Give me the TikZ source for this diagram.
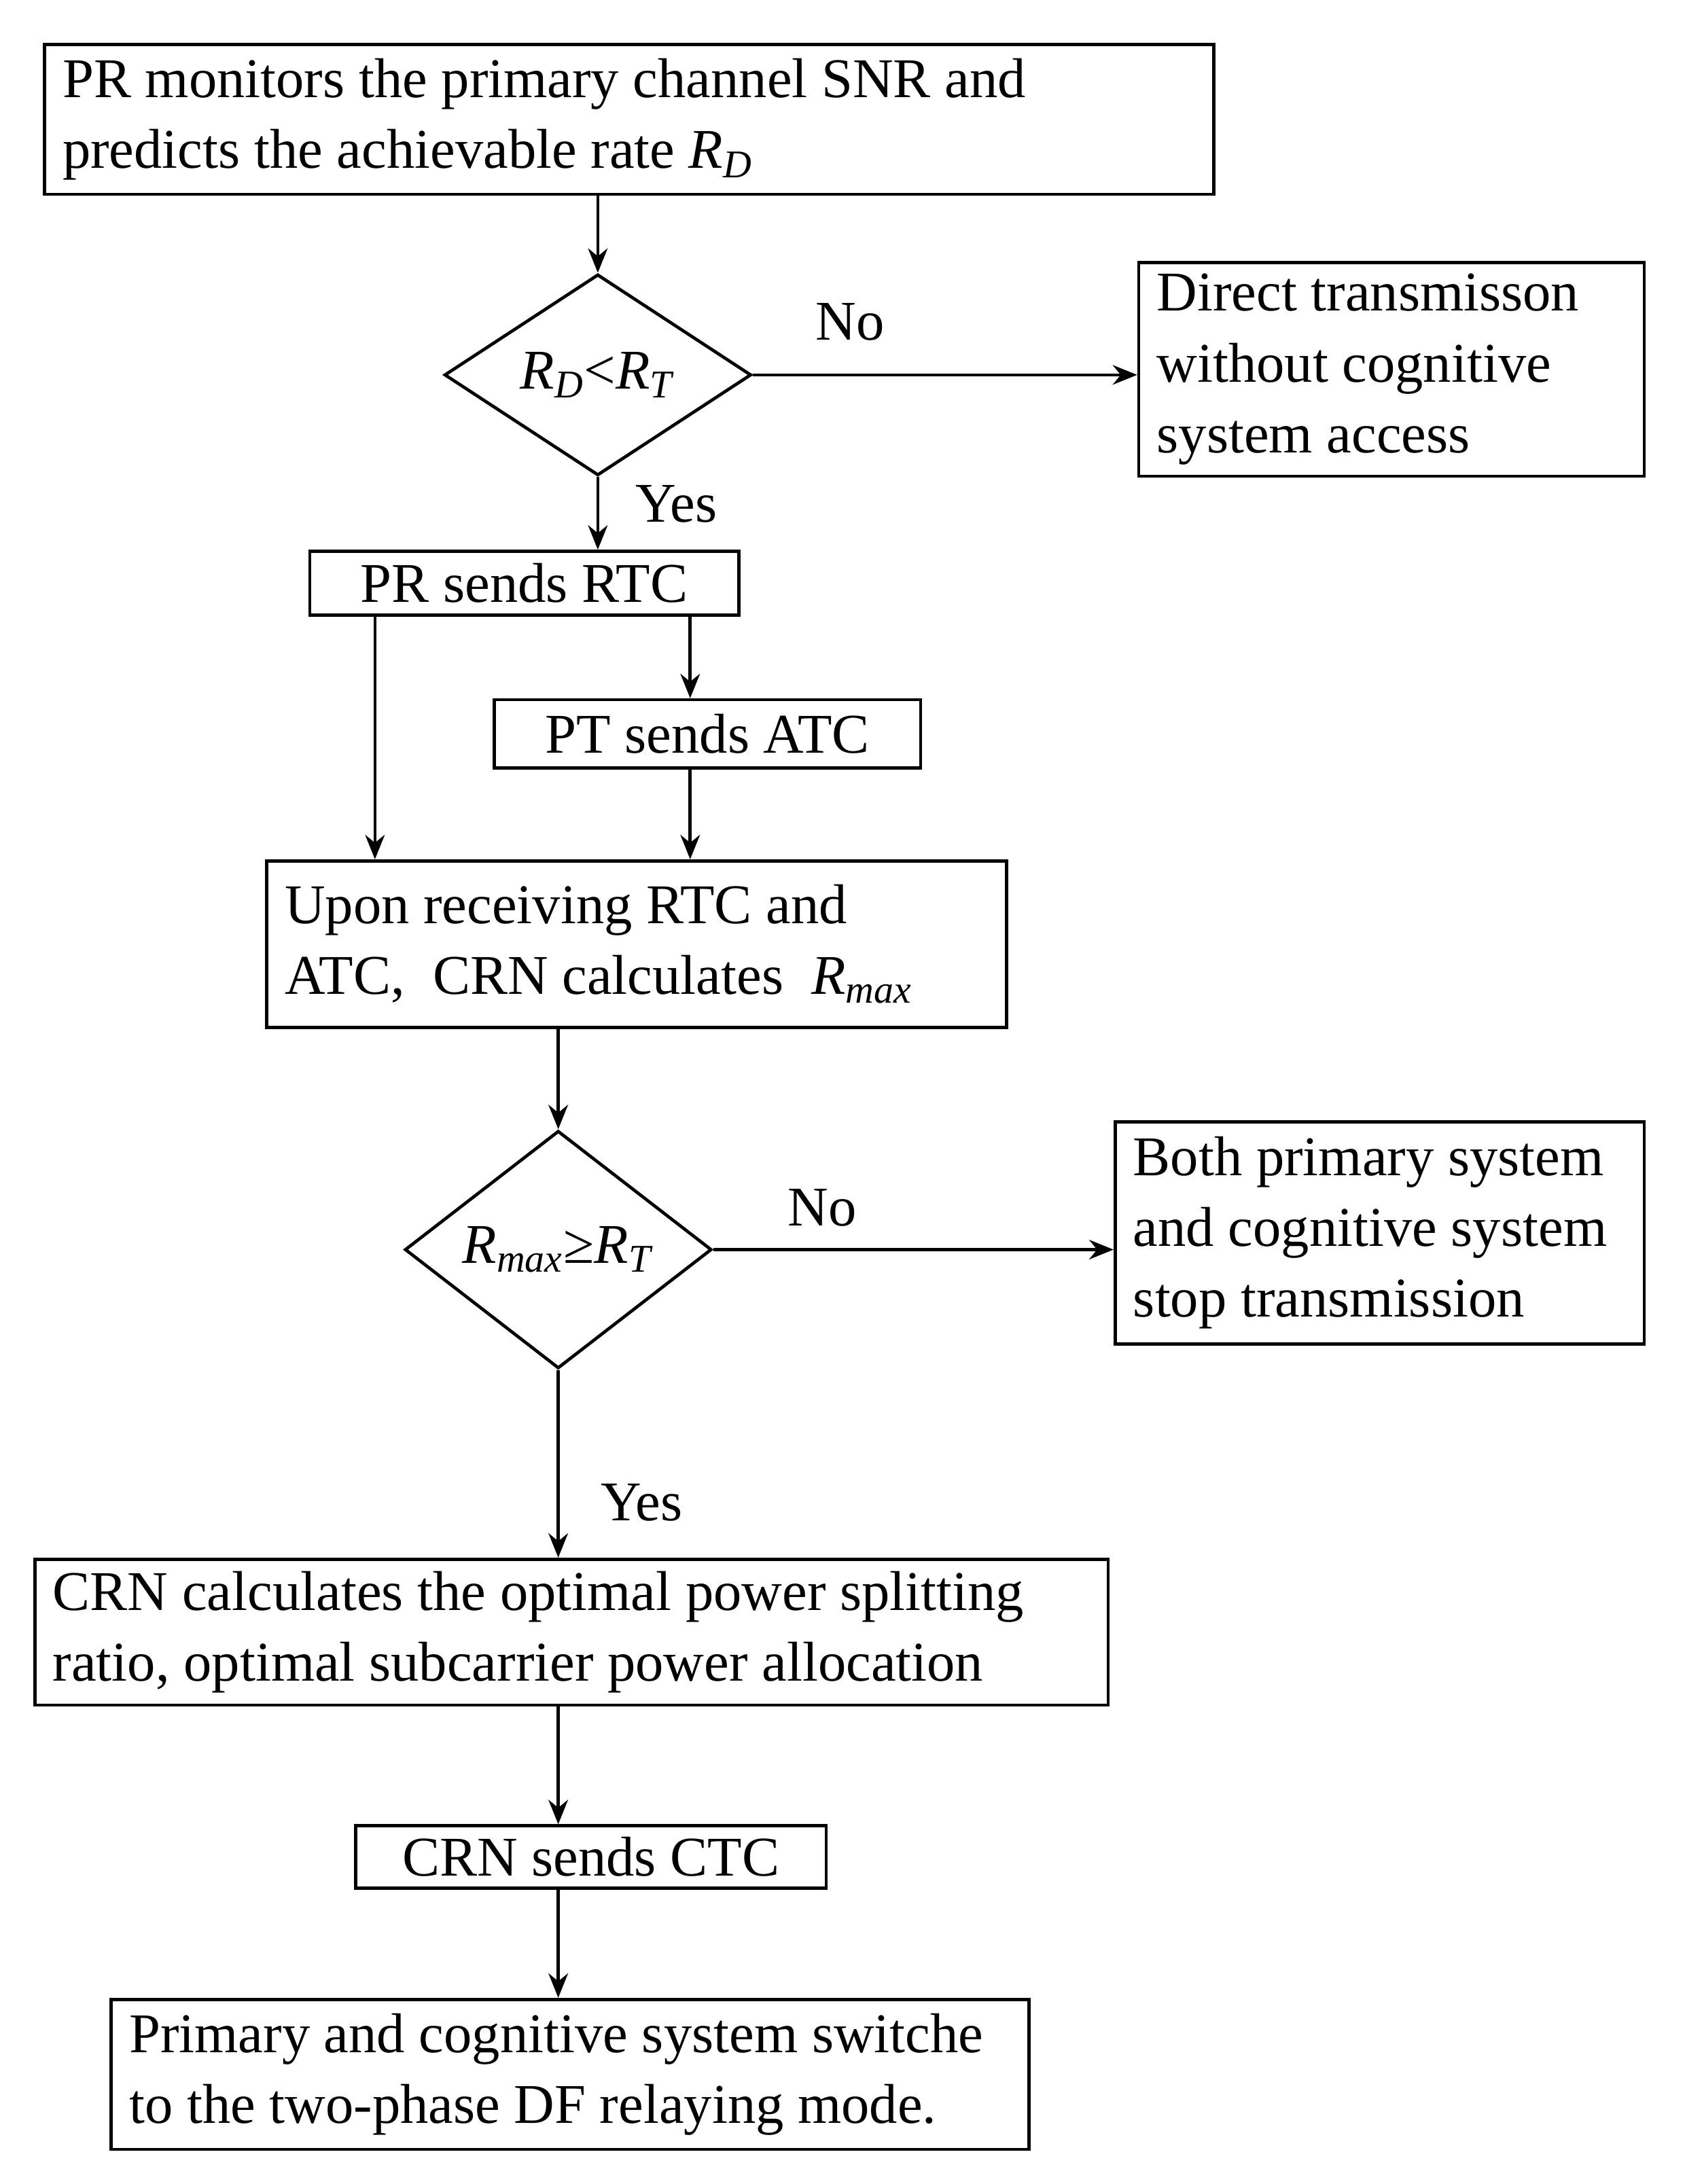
\documentclass[tikz,border=0pt]{standalone}
\usepackage{fontspec}
\setmainfont{Liberation Serif}
\usetikzlibrary{positioning,shapes.geometric,arrows.meta}
\newcommand{\Rsub}[1]{\textit{R}\textsubscript{\textit{#1}}}
\tikzset{box/.style={draw, line width=1.3pt, inner xsep=0.26cm, inner ysep=0, align=flush left},
         cbox/.style={draw, line width=1.3pt, inner sep=0, align=center},
         decision/.style={diamond, draw, line width=1.3pt, inner sep=0, minimum width=4.42cm, minimum height=2.6cm},
         arrow/.style={line width=1.3pt,-{Stealth[length=10pt,width=8pt]}}}
\begin{document}
\begin{tikzpicture}[x=0.02cm,y=-0.02cm,font=\fontsize{23}{29}\selectfont]
\useasboundingbox (0,0) rectangle (1213,1573);
% boxes
\node[box,text width=16.32cm,minimum height=2.16cm] (monitor) at (453,86) {PR monitors the primary channel SNR and\\predicts the achievable rate \Rsub{D}};
\node[decision] (dec1) at (430.5,270) {\Rsub{D}<\Rsub{T}};
\node[box,text width=6.76cm,minimum height=3.08cm] (direct) at (1002,266) {Direct transmisson\\without cognitive\\system access};
\node[cbox,minimum width=6.18cm,minimum height=0.92cm] (rtc) at (377.5,420) {PR sends RTC};
\node[cbox,minimum width=6.14cm,minimum height=0.98cm] (atc) at (509.5,528.5) {PT sends ATC};
\node[box,text width=10.14cm,minimum height=2.4cm] (calc) at (458.5,680) {Upon receiving RTC and\\ATC,\ \ CRN calculates\ \ \Rsub{max}};
\node[decision] (dec2) at (402,900) {\Rsub{max}≥\Rsub{T}};
\node[box,text width=7.1cm,minimum height=3.2cm] (stop) at (993.5,888) {\mbox{Both primary system}\\\mbox{and cognitive system}\\stop transmission};
\node[box,text width=14.94cm,minimum height=2.1cm] (optimal) at (411.5,1175.5) {\mbox{CRN calculates the optimal power splitting}\\ratio, optimal subcarrier power allocation};
\node[cbox,minimum width=6.78cm,minimum height=0.9cm] (ctc) at (425.5,1337.5) {CRN sends CTC};
\node[box,text width=12.7cm,minimum height=2.16cm] (switch) at (410.5,1494) {\mbox{Primary and cognitive system switche}\\to the two-phase DF relaying mode.};
% labels
\node (no1) at (612,232) {No};
\node (yes1) at (487,363) {Yes};
\node (no2) at (592,870) {No};
\node (yes2) at (462,1082) {Yes};
% helper columns
\coordinate (c1) at (270,0);
\coordinate (c2) at (497,0);
\coordinate (c3) at (402,0);
% connectors
\draw[arrow] (monitor.south -| dec1) -- (dec1.north);
\draw[arrow] (dec1.east) -- (direct.west |- dec1);
\draw[arrow] (dec1.south) -- (rtc.north -| dec1);
\draw[arrow] (rtc.south -| c1) -- (calc.north -| c1);
\draw[arrow] (rtc.south -| c2) -- (atc.north -| c2);
\draw[arrow] (atc.south -| c2) -- (calc.north -| c2);
\draw[arrow] (calc.south -| c3) -- (dec2.north);
\draw[arrow] (dec2.east) -- (stop.west |- dec2);
\draw[arrow] (dec2.south) -- (optimal.north -| dec2);
\draw[arrow] (optimal.south -| c3) -- (ctc.north -| c3);
\draw[arrow] (ctc.south -| c3) -- (switch.north -| c3);
\end{tikzpicture}
\end{document}
